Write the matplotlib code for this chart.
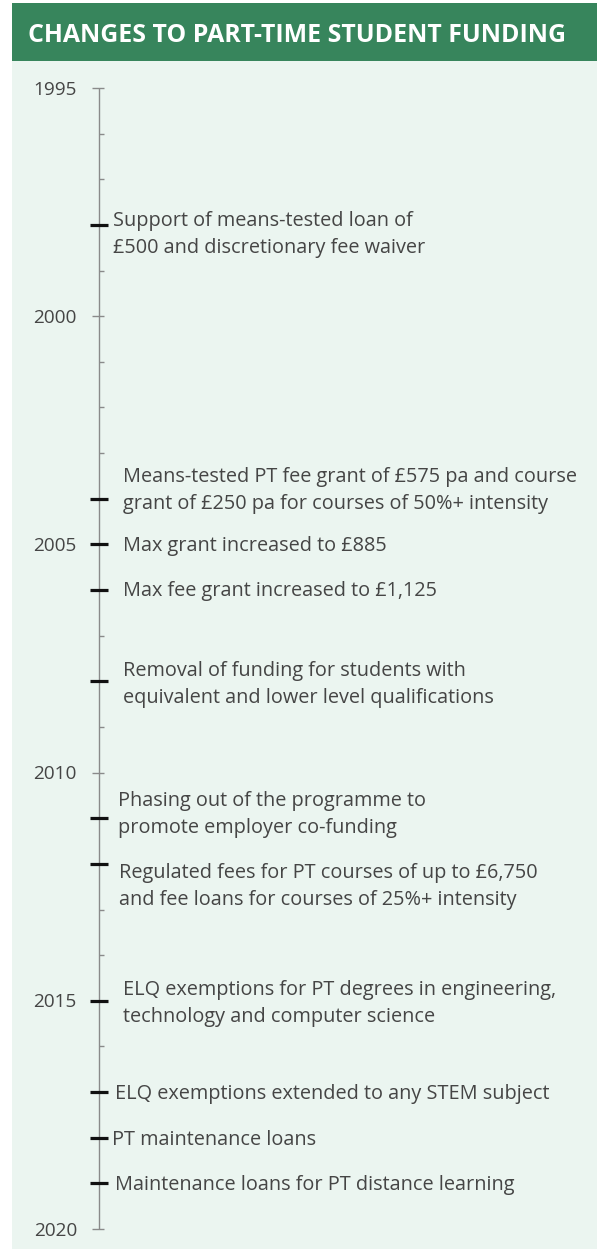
import matplotlib
matplotlib.use("Agg")
import matplotlib.pyplot as plt
from matplotlib.patches import Rectangle

# ---------------- data ----------------
title = "CHANGES TO PART-TIME STUDENT FUNDING"
start_year = 1995
end_year = 2020
label_years = [1995, 2000, 2005, 2010, 2015, 2020]
event_years = [1998, 2004, 2005, 2006, 2008, 2011, 2012, 2015, 2017, 2018, 2019]
event_texts = [
    "Support of means-tested loan of\n£500 and discretionary fee waiver",
    "Means-tested PT fee grant of £575 pa and course\ngrant of £250 pa for courses of 50%+ intensity",
    "Max grant increased to £885",
    "Max fee grant increased to £1,125",
    "Removal of funding for students with\nequivalent and lower level qualifications",
    "Phasing out of the programme to\npromote employer co-funding",
    "Regulated fees for PT courses of up to £6,750\nand fee loans for courses of 25%+ intensity",
    "ELQ exemptions for PT degrees in engineering,\ntechnology and computer science",
    "ELQ exemptions extended to any STEM subject",
    "PT maintenance loans",
    "Maintenance loans for PT distance learning",
]

# ---------------- layout (pixels) ----------------
W, H = 597, 1249
text_x = [113, 123, 123, 123, 123, 118, 119, 123, 115, 112, 115]
text_dy = [1, -17, 6.5, 6, -5, -12, 14, -6, 7, 7, 6.5]   # first baseline offset from tick
line_gap = 27
top_px, bottom_px = 88, 1229
ypp = (end_year - start_year) / (bottom_px - top_px)      # years per pixel
y_top = start_year - top_px * ypp
y_bottom = start_year + (H - top_px) * ypp

def py(px):
    return y_top + px * ypp

GREEN = "#37855c"
PANEL = "#ebf5f0"
TEXT = "#454545"
AXC = "#8a8a8a"
FONT = ["Open Sans", "DejaVu Sans"]
FS = 14.3

fig = plt.figure(figsize=(W / 100, H / 100), dpi=100)
fig.patch.set_facecolor("white")
ax = fig.add_axes([0, 0, 1, 1])
ax.set_xlim(0, W)
ax.set_ylim(y_bottom, y_top)
ax.axis("off")

# background panel and title bar
ax.add_patch(Rectangle((12, py(61)), W - 12, py(H) - py(61), facecolor=PANEL, edgecolor="none", zorder=0))
ax.add_patch(Rectangle((12, py(3)), W - 12, py(61) - py(3), facecolor=GREEN, edgecolor="none", zorder=0))
ax.text(28, py(41.7), title, color="white", fontsize=17.9, fontweight="bold",
        family=FONT, ha="left", va="baseline")

# timeline axis
axis_x = 98.5
ax.vlines(axis_x, start_year, end_year, color=AXC, lw=1.0, zorder=2)
years = list(range(start_year, end_year + 1))
minor = [y for y in years if y not in label_years]
ax.hlines(label_years, 92, 104, color=AXC, lw=1.0, zorder=2)
ax.hlines(minor, axis_x, 104, color=AXC, lw=1.0, zorder=2)
for yv in label_years:
    ax.text(77, yv + 6.6 * ypp, str(yv), color=TEXT, fontsize=13.7, family=FONT,
            ha="right", va="baseline")

# events
ax.hlines(event_years, 90, 108, color="#111111", lw=2.3, zorder=3)
for yr, txt, tx, dy in zip(event_years, event_texts, text_x, text_dy):
    for i, line in enumerate(txt.split("\n")):
        ax.text(tx, yr + (dy + i * line_gap) * ypp, line, color=TEXT, fontsize=FS,
                family=FONT, ha="left", va="baseline")

fig.savefig("out.png", dpi=100)
